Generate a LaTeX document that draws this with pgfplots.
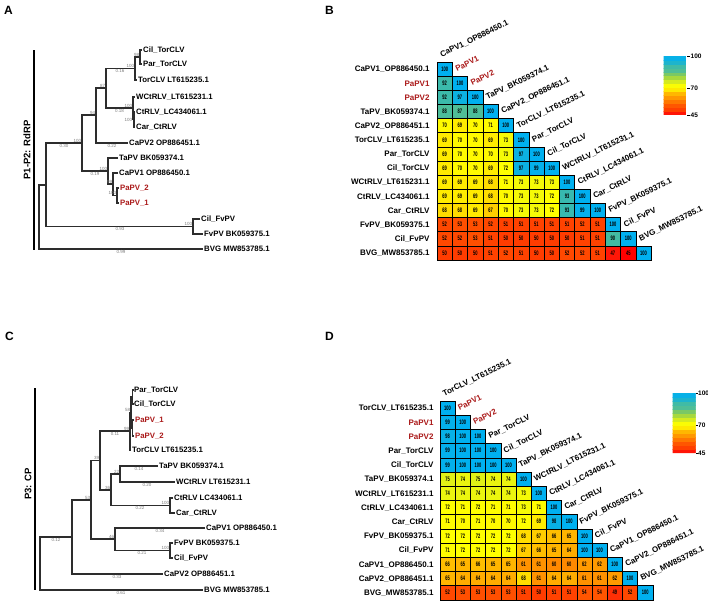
\documentclass[border=0pt]{standalone}
\usepackage{pgfplots}
\pgfplotsset{compat=1.18}
\usepackage{pgfplotstable}
\usepackage{fontspec}
\setmainfont{Liberation Sans}
\definecolor{pred}{RGB}{170,25,25}
\definecolor{treec}{RGB}{45,45,45}
\definecolor{bsc}{RGB}{125,125,125}
\newcommand{\rowfont}{\fontsize{8}{8}\selectfont\bfseries}
\newcommand{\cbfont}{\fontsize{6.5}{6.5}\selectfont\bfseries}
\pgfplotsset{
  colormap={hm}{rgb255(45pt)=(255,0,0); rgb255(48pt)=(255,35,10); rgb255(50pt)=(255,60,0); rgb255(54pt)=(255,85,0); rgb255(58pt)=(255,120,0); rgb255(62pt)=(255,155,0); rgb255(66pt)=(255,190,0); rgb255(68pt)=(255,220,0); rgb255(70pt)=(255,250,0); rgb255(72pt)=(255,255,0); rgb255(76pt)=(215,235,30); rgb255(82pt)=(140,205,80); rgb255(87pt)=(80,190,150); rgb255(93pt)=(55,185,175); rgb255(95pt)=(20,178,215); rgb255(100pt)=(0,176,240)},
  hmcells/.style={scatter, only marks, mark=square*, mark size=7.07pt, point meta=explicit,
    scatter/use mapped color={draw=black, fill=mapped color},
    every mark/.append style={xscale=#1, line width=0.5pt}},
  hmnums/.style={draw=none, mark=none, point meta=explicit,
    /pgf/number format/assume math mode=true,
    nodes near coords={\pgfmathprintnumber{\pgfplotspointmeta}}, nodes near coords align=center,
    every node near coord/.append style={font=\fontsize{6.5}{6.5}\selectfont\bfseries, anchor=center, xscale=0.62, text=black, inner sep=0pt}},
}
\pgfplotstableread[row sep=\\]{
x y v\\
0 0 100\\
0 1 92\\ 1 1 100\\
0 2 92\\ 1 2 97\\ 2 2 100\\
0 3 88\\ 1 3 87\\ 2 3 88\\ 3 3 100\\
0 4 70\\ 1 4 69\\ 2 4 70\\ 3 4 71\\ 4 4 100\\
0 5 69\\ 1 5 70\\ 2 5 70\\ 3 5 69\\ 4 5 73\\ 5 5 100\\
0 6 69\\ 1 6 70\\ 2 6 70\\ 3 6 70\\ 4 6 73\\ 5 6 97\\ 6 6 100\\
0 7 69\\ 1 7 70\\ 2 7 70\\ 3 7 69\\ 4 7 72\\ 5 7 97\\ 6 7 99\\ 7 7 100\\
0 8 69\\ 1 8 69\\ 2 8 69\\ 3 8 68\\ 4 8 71\\ 5 8 73\\ 6 8 73\\ 7 8 73\\ 8 8 100\\
0 9 69\\ 1 9 69\\ 2 9 69\\ 3 9 68\\ 4 9 70\\ 5 9 73\\ 6 9 73\\ 7 9 72\\ 8 9 93\\ 9 9 100\\
0 10 68\\ 1 10 68\\ 2 10 69\\ 3 10 67\\ 4 10 70\\ 5 10 73\\ 6 10 73\\ 7 10 72\\ 8 10 93\\ 9 10 99\\ 10 10 100\\
0 11 52\\ 1 11 53\\ 2 11 53\\ 3 11 52\\ 4 11 51\\ 5 11 51\\ 6 11 51\\ 7 11 51\\ 8 11 51\\ 9 11 52\\ 10 11 51\\ 11 11 100\\
0 12 52\\ 1 12 52\\ 2 12 53\\ 3 12 51\\ 4 12 50\\ 5 12 50\\ 6 12 50\\ 7 12 50\\ 8 12 50\\ 9 12 51\\ 10 12 51\\ 11 12 90\\ 12 12 100\\
0 13 50\\ 1 13 50\\ 2 13 50\\ 3 13 51\\ 4 13 52\\ 5 13 51\\ 6 13 50\\ 7 13 50\\ 8 13 52\\ 9 13 52\\ 10 13 51\\ 11 13 47\\ 12 13 45\\ 13 13 100\\
}\tabB
\pgfplotstableread[row sep=\\]{
x y v\\
0 0 100\\
0 1 99\\ 1 1 100\\
0 2 98\\ 1 2 100\\ 2 2 100\\
0 3 99\\ 1 3 100\\ 2 3 100\\ 3 3 100\\
0 4 99\\ 1 4 100\\ 2 4 100\\ 3 4 100\\ 4 4 100\\
0 5 75\\ 1 5 74\\ 2 5 75\\ 3 5 74\\ 4 5 74\\ 5 5 100\\
0 6 74\\ 1 6 74\\ 2 6 74\\ 3 6 74\\ 4 6 74\\ 5 6 73\\ 6 6 100\\
0 7 72\\ 1 7 71\\ 2 7 72\\ 3 7 71\\ 4 7 71\\ 5 7 73\\ 6 7 71\\ 7 7 100\\
0 8 71\\ 1 8 70\\ 2 8 71\\ 3 8 70\\ 4 8 70\\ 5 8 72\\ 6 8 69\\ 7 8 98\\ 8 8 100\\
0 9 72\\ 1 9 72\\ 2 9 72\\ 3 9 72\\ 4 9 72\\ 5 9 68\\ 6 9 67\\ 7 9 66\\ 8 9 65\\ 9 9 100\\
0 10 71\\ 1 10 72\\ 2 10 72\\ 3 10 72\\ 4 10 72\\ 5 10 67\\ 6 10 66\\ 7 10 65\\ 8 10 64\\ 9 10 100\\ 10 10 100\\
0 11 66\\ 1 11 65\\ 2 11 66\\ 3 11 65\\ 4 11 65\\ 5 11 61\\ 6 11 61\\ 7 11 60\\ 8 11 60\\ 9 11 62\\ 10 11 62\\ 11 11 100\\
0 12 65\\ 1 12 64\\ 2 12 64\\ 3 12 64\\ 4 12 64\\ 5 12 68\\ 6 12 61\\ 7 12 64\\ 8 12 64\\ 9 12 61\\ 10 12 61\\ 11 12 62\\ 12 12 100\\
0 13 52\\ 1 13 53\\ 2 13 53\\ 3 13 53\\ 4 13 53\\ 5 13 51\\ 6 13 50\\ 7 13 51\\ 8 13 51\\ 9 13 54\\ 10 13 54\\ 11 13 49\\ 12 13 52\\ 13 13 100\\
}\tabD
\begin{document}
\begin{tikzpicture}[
  leaf/.style={anchor=west, inner sep=1pt, font=\fontsize{7.8}{8}\selectfont\bfseries, text height=5.6pt, text depth=0pt},
  bs/.style={anchor=south east, inner sep=0.6pt, font=\fontsize{4.5}{5}\selectfont, text=bsc},
  bl/.style={anchor=north, inner sep=1pt, font=\fontsize{4.5}{5}\selectfont, text=bsc},
  diag/.style={anchor=base west, rotate=26, inner sep=0pt, font=\rowfont},
  panel/.style={anchor=north west, inner sep=0pt, font=\fontsize{12}{12}\selectfont\bfseries}]
\path[use as bounding box] (0,0) rectangle (708pt,-602pt);
% ---------------- trees ----------------
\begin{axis}[at={(0pt,0pt)}, anchor=north west, x=1pt, y=1pt, y dir=reverse,
  xmin=0, xmax=708, ymin=0, ymax=602, hide axis, clip=false]
% tree A
\addplot[treec, line width=1.2pt, unbounded coords=jump, mark=none] coordinates {
(46,185) (39,185) (39,249) (203,249) (nan,nan)
(82,143) (46,143) (46,226.5) (193,226.5) (nan,nan)
(96,115) (82,115) (82,171) (108,171) (nan,nan)
(106,88) (96,88) (96,143) (128,143) (nan,nan)
(135,68.5) (106,68.5) (106,108) (133,108) (nan,nan)
(140,57) (135,57) (135,80) (137,80) (nan,nan)
(142,50) (140,50) (140,64) (142,64) (nan,nan)
(135,97) (133,97) (133,119.5) (134,119.5) (nan,nan)
(135,112) (134,112) (134,127) (135,127) (nan,nan)
(118,158) (108,158) (108,184) (113,184) (nan,nan)
(118,173) (113,173) (113,195.5) (117,195.5) (nan,nan)
(119,188) (117,188) (117,203) (119,203) (nan,nan)
(200,219) (193,219) (193,234) (203,234)
};
\addplot[black, line width=2pt, mark=none] coordinates {(34,50) (34,250)};
\node[leaf] at (axis cs:142,50) {Cil\_TorCLV};
\node[leaf] at (axis cs:142,64) {Par\_TorCLV};
\node[leaf] at (axis cs:137,80) {TorCLV LT615235.1};
\node[leaf] at (axis cs:135,97) {WCtRLV\_LT615231.1};
\node[leaf] at (axis cs:135,112) {CtRLV\_LC434061.1};
\node[leaf] at (axis cs:135,127) {Car\_CtRLV};
\node[leaf] at (axis cs:128,143) {CaPV2 OP886451.1};
\node[leaf] at (axis cs:118,158) {TaPV BK059374.1};
\node[leaf] at (axis cs:118,173) {CaPV1 OP886450.1};
\node[leaf,text=pred] at (axis cs:119,188) {PaPV\_2};
\node[leaf,text=pred] at (axis cs:119,203) {PaPV\_1};
\node[leaf] at (axis cs:200,219) {Cil\_FvPV};
\node[leaf] at (axis cs:203,234) {FvPV BK059375.1};
\node[leaf] at (axis cs:203,249) {BVG MW853785.1};
\node[bs] at (axis cs:140,57) {98};
\node[bs] at (axis cs:135,68.5) {100};
\node[bs] at (axis cs:106,88) {87};
\node[bs] at (axis cs:133,108) {100};
\node[bs,anchor=east] at (axis cs:133,120) {100};
\node[bs] at (axis cs:96,115) {94};
\node[bs] at (axis cs:82,143) {100};
\node[bs] at (axis cs:108,171) {100};
\node[bs] at (axis cs:113,184) {99};
\node[bs] at (axis cs:117,195.5) {100};
\node[bs] at (axis cs:193,226.5) {100};
\node[bl] at (axis cs:120,68.5) {0.16};
\node[bl] at (axis cs:119.5,108) {0.18};
\node[bl] at (axis cs:112,143) {0.22};
\node[bl] at (axis cs:64,143) {0.30};
\node[bl] at (axis cs:95,171) {0.19};
\node[bl] at (axis cs:120,226.5) {0.93};
\node[bl] at (axis cs:121,249) {0.99};
\node[rotate=90, font=\fontsize{9.5}{10}\selectfont\bfseries] at (axis cs:27,150) {P1-P2: RdRP};
% tree C
\addplot[treec, line width=1.2pt, unbounded coords=jump, mark=none] coordinates {
(72,537) (40,537) (40,590) (203,590) (nan,nan)
(91,500) (72,500) (72,574) (163,574) (nan,nan)
(100,460.5) (91,460.5) (91,539) (115,539) (nan,nan)
(130,431) (100,431) (100,490) (111,490) (nan,nan)
(131,412.5) (130,412.5) (130,450) (131,450) (nan,nan)
(132.5,397) (131,397) (131,428) (132.5,428) (nan,nan)
(133,390) (132.5,390) (132.5,404) (133,404) (nan,nan)
(134,420) (132.5,420) (132.5,436) (134,436) (nan,nan)
(120,474) (111,474) (111,505.5) (170,505.5) (nan,nan)
(158,466) (120,466) (120,482) (175,482) (nan,nan)
(173,498) (170,498) (170,513) (175,513) (nan,nan)
(205,528) (115,528) (115,550.5) (170,550.5) (nan,nan)
(173,543) (170,543) (170,558) (173,558)
};
\addplot[black, line width=2pt, mark=none] coordinates {(35,388) (35,590)};
\node[leaf] at (axis cs:133,390) {Par\_TorCLV};
\node[leaf] at (axis cs:133,404) {Cil\_TorCLV};
\node[leaf,text=pred] at (axis cs:134,420) {PaPV\_1};
\node[leaf,text=pred] at (axis cs:134,436) {PaPV\_2};
\node[leaf] at (axis cs:131,450) {TorCLV LT615235.1};
\node[leaf] at (axis cs:158,466) {TaPV BK059374.1};
\node[leaf] at (axis cs:175,482) {WCtRLV LT615231.1};
\node[leaf] at (axis cs:173,498) {CtRLV LC434061.1};
\node[leaf] at (axis cs:175,513) {Car\_CtRLV};
\node[leaf] at (axis cs:205,528) {CaPV1 OP886450.1};
\node[leaf] at (axis cs:173,543) {FvPV BK059375.1};
\node[leaf] at (axis cs:173,558) {Cil\_FvPV};
\node[leaf] at (axis cs:163,574) {CaPV2 OP886451.1};
\node[leaf] at (axis cs:203,590) {BVG MW853785.1};
\node[bs] at (axis cs:131,412.5) {58};
\node[bs] at (axis cs:130,431) {99};
\node[bs] at (axis cs:100,460.5) {39};
\node[bs] at (axis cs:111,490) {36};
\node[bs] at (axis cs:120,474) {22};
\node[bs] at (axis cs:170,505.5) {100};
\node[bs] at (axis cs:91,500) {53};
\node[bs] at (axis cs:115,539) {46};
\node[bs] at (axis cs:170,550.5) {100};
\node[bl] at (axis cs:115,431) {0.11};
\node[bl] at (axis cs:139,466) {0.14};
\node[bl] at (axis cs:147,482) {0.20};
\node[bl] at (axis cs:140,505.5) {0.22};
\node[bl] at (axis cs:160,528) {0.34};
\node[bl] at (axis cs:142,550.5) {0.21};
\node[bl] at (axis cs:56,537) {0.12};
\node[bl] at (axis cs:117,574) {0.33};
\node[bl] at (axis cs:121,590) {0.61};
\node[rotate=90, font=\fontsize{9.5}{10}\selectfont\bfseries] at (axis cs:28,484) {P3: CP};
% panel letters
\node[panel] at (axis cs:4,6) {A};
\node[panel] at (axis cs:325,6) {B};
\node[panel] at (axis cs:5,332) {C};
\node[panel] at (axis cs:325,332) {D};
\end{axis}
% ---------------- heatmap B ----------------
\begin{axis}[at={(437pt,-62pt)}, anchor=north west, x=15.3pt, y=14.14pt, y dir=reverse,
  xmin=-0.5, xmax=13.5, ymin=-0.5, ymax=13.5, clip=false,
  axis line style={draw=none}, xtick=\empty, ytick={0,...,13}, major tick length=0pt,
  yticklabels={CaPV1\_OP886450.1, \textcolor{pred}{PaPV1}, \textcolor{pred}{PaPV2}, TaPV\_BK059374.1, CaPV2\_OP886451.1, TorCLV\_LT615235.1, Par\_TorCLV, Cil\_TorCLV, WCtRLV\_LT615231.1, CtRLV\_LC434061.1, Car\_CtRLV, FvPV\_BK059375.1, Cil\_FvPV, BVG\_MW853785.1},
  yticklabel style={font=\rowfont, anchor=east, xshift=-4pt, text height=5.6pt, text depth=0pt},
  point meta min=45, point meta max=100, colormap name=hm]
\addplot[hmcells=1.082] table[x=x, y=y, meta=v] {\tabB};
\addplot[hmnums] table[x=x, y=y, meta=v] {\tabB};
\node[diag] at (axis cs:-0.2,-0.82) {CaPV1\_OP886450.1};
\node[diag,text=pred] at (axis cs:0.8,0.18) {PaPV1};
\node[diag,text=pred] at (axis cs:1.8,1.18) {PaPV2};
\node[diag] at (axis cs:2.8,2.18) {TaPV\_BK059374.1};
\node[diag] at (axis cs:3.8,3.18) {CaPV2\_OP886451.1};
\node[diag] at (axis cs:4.8,4.18) {TorCLV\_LT615235.1};
\node[diag] at (axis cs:5.8,5.18) {Par\_TorCLV};
\node[diag] at (axis cs:6.8,6.18) {Cil\_TorCLV};
\node[diag] at (axis cs:7.8,7.18) {WCtRLV\_LT615231.1};
\node[diag] at (axis cs:8.8,8.18) {CtRLV\_LC434061.1};
\node[diag] at (axis cs:9.8,9.18) {Car\_CtRLV};
\node[diag] at (axis cs:10.8,10.18) {FvPV\_BK059375.1};
\node[diag] at (axis cs:11.8,11.18) {Cil\_FvPV};
\node[diag] at (axis cs:12.8,12.18) {BVG\_MW853785.1};
\end{axis}
\begin{axis}[at={(655pt,-56pt)}, anchor=north west, hide axis, scale only axis, width=23pt, height=59pt,
  xmin=0, xmax=1, ymin=0, ymax=1, point meta min=45, point meta max=100, colormap name=hm,
  colorbar, colorbar sampled,
  colorbar style={at={(parent axis.north west)}, anchor=north west, width=23pt, height=59pt, samples=16,
    ytick={45,70,100}, yticklabels={45,70,100}, yticklabel style={font=\cbfont, inner sep=1pt},
    axis line style={draw=none}, tick align=outside, major tick length=3pt, ytick pos=right,
    tick style={black, line width=0.6pt}}]
\addplot[draw=none] coordinates {(0,0)};
\end{axis}
% ---------------- heatmap D ----------------
\begin{axis}[at={(440pt,-401pt)}, anchor=north west, x=15.2pt, y=14.2pt, y dir=reverse,
  xmin=-0.5, xmax=13.5, ymin=-0.5, ymax=13.5, clip=false,
  axis line style={draw=none}, xtick=\empty, ytick={0,...,13}, major tick length=0pt,
  yticklabels={TorCLV\_LT615235.1, \textcolor{pred}{PaPV1}, \textcolor{pred}{PaPV2}, Par\_TorCLV, Cil\_TorCLV, TaPV\_BK059374.1, WCtRLV\_LT615231.1, CtRLV\_LC434061.1, Car\_CtRLV, FvPV\_BK059375.1, Cil\_FvPV, CaPV1\_OP886450.1, CaPV2\_OP886451.1, BVG\_MW853785.1},
  yticklabel style={font=\rowfont, anchor=east, xshift=-3pt, text height=5.6pt, text depth=0pt},
  point meta min=45, point meta max=100, colormap name=hm]
\addplot[hmcells=1.07] table[x=x, y=y, meta=v] {\tabD};
\addplot[hmnums] table[x=x, y=y, meta=v] {\tabD};
\node[diag] at (axis cs:-0.22,-0.82) {TorCLV\_LT615235.1};
\node[diag,text=pred] at (axis cs:0.78,0.18) {PaPV1};
\node[diag,text=pred] at (axis cs:1.78,1.18) {PaPV2};
\node[diag] at (axis cs:2.78,2.18) {Par\_TorCLV};
\node[diag] at (axis cs:3.78,3.18) {Cil\_TorCLV};
\node[diag] at (axis cs:4.78,4.18) {TaPV\_BK059374.1};
\node[diag] at (axis cs:5.78,5.18) {WCtRLV\_LT615231.1};
\node[diag] at (axis cs:6.78,6.18) {CtRLV\_LC434061.1};
\node[diag] at (axis cs:7.78,7.18) {Car\_CtRLV};
\node[diag] at (axis cs:8.78,8.18) {FvPV\_BK059375.1};
\node[diag] at (axis cs:9.78,9.18) {Cil\_FvPV};
\node[diag] at (axis cs:10.78,10.18) {CaPV1\_OP886450.1};
\node[diag] at (axis cs:11.78,11.18) {CaPV2\_OP886451.1};
\node[diag] at (axis cs:12.78,12.18) {BVG\_MW853785.1};
\end{axis}
\begin{axis}[at={(664pt,-393pt)}, anchor=north west, hide axis, scale only axis, width=23pt, height=60pt,
  xmin=0, xmax=1, ymin=0, ymax=1, point meta min=45, point meta max=100, colormap name=hm,
  colorbar, colorbar sampled,
  colorbar style={at={(parent axis.north west)}, anchor=north west, width=23pt, height=60pt, samples=16,
    ytick={45,70,100}, yticklabels={45,70,100}, yticklabel style={font=\cbfont, inner sep=0.5pt},
    axis line style={draw=none}, tick align=outside, major tick length=2pt, ytick pos=right,
    tick style={black, line width=0.6pt}}]
\addplot[draw=none] coordinates {(0,0)};
\end{axis}
\end{tikzpicture}
\end{document}
